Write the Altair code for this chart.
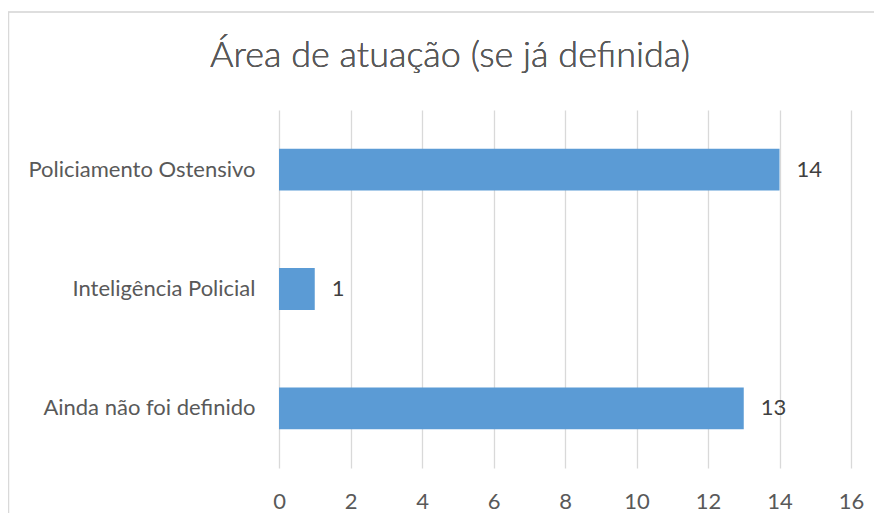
import altair as alt
import pandas as pd

categories = ["Policiamento Ostensivo", "Inteligência Policial", "Ainda não foi definido"]
values = [14, 1, 13]
title_text = "Área de atuação (se já definida)"

df = pd.DataFrame({"cat": categories, "val": values})

FONT = "Lato"
GREY = "#595959"
FS = 22

y_enc = alt.Y("cat:N", sort=categories, title=None,
              scale=alt.Scale(paddingInner=0.65, paddingOuter=0.325),
              axis=alt.Axis(domain=False, ticks=False, labelFontSize=FS, labelColor=GREY,
                            labelFont=FONT, labelPadding=24, labelLimit=300))
x_enc = alt.X("val:Q", title=None, scale=alt.Scale(domain=[0, 16]),
              axis=alt.Axis(values=list(range(0, 17, 2)), domain=False, ticks=False,
                            grid=True, gridColor="#d9d9d9", gridWidth=1.3, labelFlush=False,
                            labelFontSize=FS, labelColor=GREY, labelFont=FONT, labelPadding=23))

border = alt.Chart(df).mark_rect(fillOpacity=0, stroke="#d9d9d9", strokeWidth=1.2).encode(
    x=alt.value(-270.5), x2=alt.value(700), y=alt.value(-98), y2=alt.value(500))

bars = alt.Chart(df).mark_bar(color="#5b9bd5").encode(x=x_enc, y=y_enc)

labels = alt.Chart(df).mark_text(align="left", baseline="middle", dx=17, fontSize=FS,
                                 color="#404040", font=FONT).encode(
    x="val:Q", y=alt.Y("cat:N", sort=categories), text="val:Q")

title = alt.Chart(df).mark_text(align="center", baseline="alphabetic", fontSize=36,
                                color=GREY, font=FONT, fontWeight=300).encode(
    x=alt.value(171), y=alt.value(-43), text=alt.value(title_text))

chart = alt.layer(border, bars, labels, title).properties(
    width=572, height=358,
    autosize=alt.AutoSizeParams(type="none"),
    padding={"left": 271, "top": 102, "right": 23, "bottom": 45},
).configure_view(stroke=None)

chart.save("out.html", embed_options={"renderer": "svg", "actions": False})
